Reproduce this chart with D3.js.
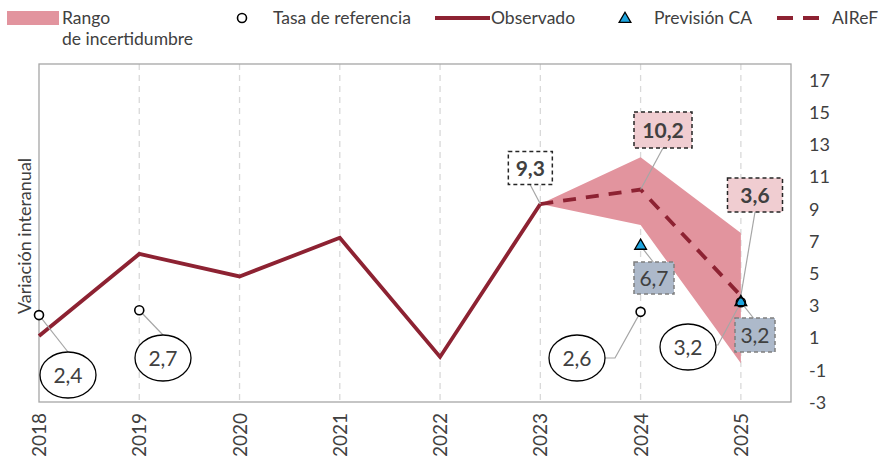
<!DOCTYPE html>
<html>
<head>
<meta charset="utf-8">
<script src="https://cdn.jsdelivr.net/npm/d3@7"></script>
<style>
  body { margin: 0; background: #fff; }
  svg text { font-family: Lato, "Open Sans", sans-serif; fill: #404040; }
</style>
</head>
<body>
<div id="chart"></div>
<script>
var width = 882, height = 458;

// data
var years = [2018, 2019, 2020, 2021, 2022, 2023, 2024, 2025];
var observado = [1.1, 6.2, 4.8, 7.2, -0.2, 9.3];
var airefYears = [2023, 2024, 2025];
var aireF = [9.3, 10.2, 3.6];
var rangoLow = [9.3, 8.0, -0.6];
var rangoHigh = [9.3, 12.2, 7.5];
var tasaYears = [2018, 2019, 2024, 2025];
var tasaRef = [2.4, 2.7, 2.6, 3.2];
var caYears = [2024, 2025];
var prevCA = [6.7, 3.2];
var yTicks = [-3, -1, 1, 3, 5, 7, 9, 11, 13, 15, 17];

var svg = d3.select("#chart").append("svg")
    .attr("width", width)
    .attr("height", height);

var x = d3.scaleLinear().domain([2018, 2025.5]).range([39, 791]);
var y = d3.scaleLinear().domain([-3, 18]).range([402, 64]);

var fmt = function(v) { return String(v).replace(".", ","); };

// gridlines
svg.append("g").selectAll("line")
    .data(years.slice(1))
    .join("line")
    .attr("x1", d => x(d)).attr("x2", d => x(d))
    .attr("y1", y(18)).attr("y2", y(-3))
    .attr("stroke", "#d9d9d9")
    .attr("stroke-width", 1.3)
    .attr("stroke-dasharray", "6,5");

// plot frame
svg.append("rect")
    .attr("x", x(2018)).attr("y", y(18))
    .attr("width", x(2025.5) - x(2018))
    .attr("height", y(-3) - y(18))
    .attr("fill", "none")
    .attr("stroke", "#a6a6a6")
    .attr("stroke-width", 1.3);

// right axis
var yAxis = d3.axisRight(y).tickValues(yTicks).tickSize(0).tickPadding(18)
    .tickFormat(d => d);
var ya = svg.append("g").attr("transform", "translate(791,0)").call(yAxis);
ya.select(".domain").remove();
ya.selectAll("text").style("font-size", "18px").attr("dy", "0.35em");

// x axis labels (rotated)
svg.append("g").selectAll("text")
    .data(years)
    .join("text")
    .attr("transform", d => "translate(" + (x(d) + 7) + ",413) rotate(-90)")
    .attr("text-anchor", "end")
    .style("font-size", "19px")
    .text(d => d);

// y title
svg.append("text")
    .attr("transform", "translate(31,236) rotate(-90)")
    .attr("text-anchor", "middle")
    .style("font-size", "18px")
    .text("Variación interanual");

// uncertainty band
var band = airefYears.map((d, i) => ({ yr: d, lo: rangoLow[i], hi: rangoHigh[i] }));
svg.append("path")
    .datum(band)
    .attr("fill", "#e2949e")
    .attr("d", d3.area().x(d => x(d.yr)).y0(d => y(d.lo)).y1(d => y(d.hi)));

// observed line
var line = d3.line().x(d => x(d[0])).y(d => y(d[1]));
svg.append("path")
    .datum(observado.map((v, i) => [years[i], v]))
    .attr("fill", "none")
    .attr("stroke", "#8d2232")
    .attr("stroke-width", 3.8)
    .attr("d", line);

// AIReF dashed line
svg.append("path")
    .datum(aireF.map((v, i) => [airefYears[i], v]))
    .attr("fill", "none")
    .attr("stroke", "#8d2232")
    .attr("stroke-width", 3.8)
    .attr("stroke-dasharray", "13,10")
    .attr("d", line);

// leader lines
function leader(x1, y1, x2, y2) {
    svg.append("line")
        .attr("x1", x1).attr("y1", y1).attr("x2", x2).attr("y2", y2)
        .attr("stroke", "#a6a6a6").attr("stroke-width", 1.2);
}

// annotation boxes
function box(cx, cy, w, h, label, fill, stroke, bold) {
    svg.append("rect")
        .attr("x", cx - w / 2).attr("y", cy - h / 2)
        .attr("width", w).attr("height", h)
        .attr("fill", fill)
        .attr("stroke", stroke)
        .attr("stroke-width", 1.5)
        .attr("stroke-dasharray", "4,3");
    svg.append("text")
        .attr("x", cx).attr("y", cy).attr("dy", "0.36em")
        .attr("text-anchor", "middle")
        .style("font-size", "21px")
        .style("font-weight", bold ? "bold" : "normal")
        .text(label);
}

function ellipse(cx, cy, label) {
    svg.append("ellipse")
        .attr("cx", cx).attr("cy", cy).attr("rx", 28).attr("ry", 23)
        .attr("fill", "#fff").attr("stroke", "#000").attr("stroke-width", 1.3);
    svg.append("text")
        .attr("x", cx).attr("y", cy).attr("dy", "0.36em")
        .attr("text-anchor", "middle")
        .style("font-size", "21px")
        .text(label);
}

// AIReF labels
leader(x(2023) - 10, 185, x(2023), y(aireF[0]));
box(x(2023) - 10, 168, 44, 33, fmt(aireF[0]), "#fff", "#262626", true);
leader(663, 148, x(2024), y(aireF[1]));
box(663, 130, 58, 36, fmt(aireF[1]), "#f0cdd1", "#262626", true);
leader(755, 212, x(2025), y(aireF[2]));
box(755, 195, 55, 34, fmt(aireF[2]), "#f0cdd1", "#262626", true);

// CA labels
leader(x(2024), y(prevCA[0]), 654, 263);
box(654, 278, 40, 32, fmt(prevCA[0]), "#adb9ca", "#7f7f7f", false);
leader(x(2025), y(prevCA[1]), 755, 320);
box(755, 335, 40, 34, fmt(prevCA[1]), "#adb9ca", "#7f7f7f", false);

// reference rate labels
var ellPos = [[68, 375], [163, 358], [577, 358], [688, 347]];
leader(x(2018), y(tasaRef[0]), 68, 352);
leader(x(2019), y(tasaRef[1]), 163, 335);
svg.append("polyline")
    .attr("points", [[605, 358], [615, 358], [x(2024), y(tasaRef[2])]].join(" "))
    .attr("fill", "none").attr("stroke", "#a6a6a6").attr("stroke-width", 1.2);
svg.append("polyline")
    .attr("points", [[710, 345], [718, 345], [x(2025), y(tasaRef[3])]].join(" "))
    .attr("fill", "none").attr("stroke", "#a6a6a6").attr("stroke-width", 1.2);
tasaRef.forEach((v, i) => ellipse(ellPos[i][0], ellPos[i][1], fmt(v)));

// CA triangles
var tri = d3.symbol().type(d3.symbolTriangle).size(60);
svg.append("g").selectAll("path")
    .data(prevCA)
    .join("path")
    .attr("transform", (d, i) => "translate(" + x(caYears[i]) + "," + y(d) + ")")
    .attr("d", tri)
    .attr("fill", "#1ea5df")
    .attr("stroke", "#000")
    .attr("stroke-width", 1.3);

// reference rate circles
svg.append("g").selectAll("circle")
    .data(tasaRef)
    .join("circle")
    .attr("cx", (d, i) => x(tasaYears[i]))
    .attr("cy", d => y(d))
    .attr("r", 4.5)
    .attr("fill", (d, i) => tasaYears[i] === 2025 ? "none" : "#fff")
    .attr("stroke", "#000")
    .attr("stroke-width", 1.6);

// legend
var lg = svg.append("g");
lg.append("rect").attr("x", 7).attr("y", 11).attr("width", 52).attr("height", 14).attr("fill", "#e2949e");
lg.append("text").attr("x", 62).attr("y", 24).style("font-size", "17.5px").text("Rango");
lg.append("text").attr("x", 62).attr("y", 45).style("font-size", "17.5px").text("de incertidumbre");
lg.append("circle").attr("cx", 242).attr("cy", 18).attr("r", 4.5)
    .attr("fill", "#fff").attr("stroke", "#000").attr("stroke-width", 1.6);
lg.append("text").attr("x", 273).attr("y", 24).style("font-size", "17.5px").text("Tasa de referencia");
lg.append("line").attr("x1", 435).attr("x2", 490).attr("y1", 18).attr("y2", 18)
    .attr("stroke", "#8d2232").attr("stroke-width", 3.8);
lg.append("text").attr("x", 491).attr("y", 24).style("font-size", "17.5px").text("Observado");
lg.append("path").attr("transform", "translate(625,19)").attr("d", tri)
    .attr("fill", "#1ea5df").attr("stroke", "#000").attr("stroke-width", 1.3);
lg.append("text").attr("x", 654).attr("y", 24).style("font-size", "17.5px").text("Previsión CA");
lg.append("line").attr("x1", 777).attr("x2", 828).attr("y1", 18).attr("y2", 18)
    .attr("stroke", "#8d2232").attr("stroke-width", 3.8).attr("stroke-dasharray", "16,10");
lg.append("text").attr("x", 832).attr("y", 24).style("font-size", "17.5px").text("AIReF");
</script>
</body>
</html>
